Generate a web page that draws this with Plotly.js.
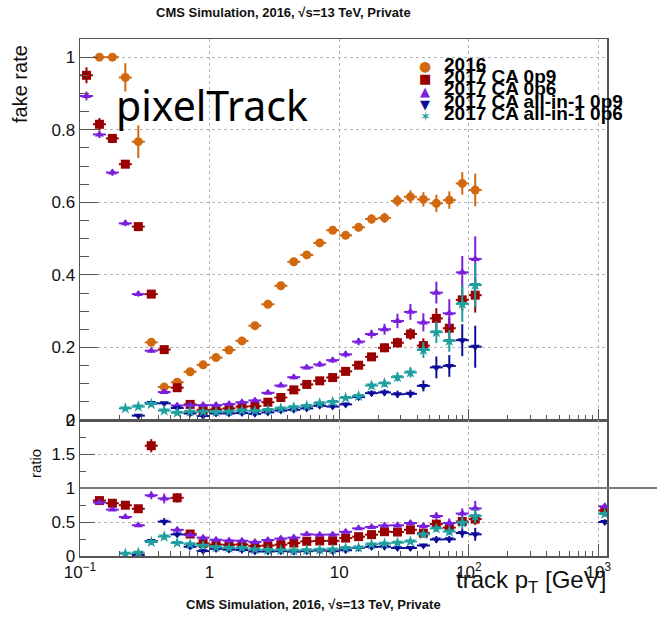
<!DOCTYPE html>
<html><head><meta charset="utf-8">
<script src="https://cdn.plot.ly/plotly-3.0.1.min.js"></script>
<style>html,body{margin:0;padding:0;background:#fff}#plot{width:657px;height:617px}</style>
</head><body><div id="plot"></div>
<script>
// pT bin edges (GeV), log-spaced bins
const ptEdges = [0.1, 0.1259, 0.1585, 0.1995, 0.2512, 0.3162, 0.3981, 0.5012, 0.631, 0.7943,
  1, 1.259, 1.585, 1.995, 2.512, 3.162, 3.981, 5.012, 6.31, 7.943,
  10, 12.59, 15.85, 19.95, 25.12, 31.62, 39.81, 50.12, 63.1, 79.43, 100, 125.9];
const lastBinEdges = [1000, 1259];

const seriesNames = ['2016', '2017 CA 0p9', '2017 CA 0p6', '2017 CA all-in-1 0p9', '2017 CA all-in-1 0p6'];

const fake2016 = [null, 1.0, 1.0, 0.944, 0.767, 0.214, 0.091, 0.104, 0.133, 0.152, 0.172, 0.193, 0.218, 0.260, 0.319, 0.370, 0.436, 0.455, 0.488, 0.523, 0.509, 0.531, 0.554, 0.557, 0.604, 0.615, 0.608, 0.597, 0.606, 0.652, 0.634];
const err2016 = [null, 0, 0, 0.039, 0.045, 0.012, 0.005, 0.007, 0.006, 0.006, 0.006, 0.006, 0.006, 0.006, 0.007, 0.007, 0.008, 0.008, 0.009, 0.009, 0.010, 0.011, 0.013, 0.014, 0.016, 0.018, 0.020, 0.024, 0.024, 0.031, 0.045];

const fakeCA0p9 = [0.950, 0.815, 0.776, 0.705, 0.533, 0.347, 0.194, 0.089, 0.043, 0.028, 0.029, 0.032, 0.037, 0.038, 0.049, 0.062, 0.083, 0.098, 0.108, 0.117, 0.134, 0.151, 0.174, 0.199, 0.213, 0.237, 0.205, 0.280, 0.253, 0.331, 0.344];
const errCA0p9 = [0.022, 0.017, 0.012, 0.009, 0.008, 0.007, 0.005, 0.004, 0.003, 0.003, 0.003, 0.003, 0.003, 0.003, 0.004, 0.004, 0.005, 0.005, 0.006, 0.006, 0.007, 0.008, 0.010, 0.012, 0.014, 0.016, 0.020, 0.028, 0.030, 0.030, 0.048];

const fakeCA0p6 = [0.893, 0.787, 0.682, 0.542, 0.347, 0.191, 0.077, 0.040, 0.041, 0.041, 0.041, 0.044, 0.049, 0.054, 0.075, 0.095, 0.118, 0.145, 0.153, 0.165, 0.181, 0.216, 0.237, 0.250, 0.273, 0.298, 0.269, 0.351, 0.294, 0.407, 0.444];
const errCA0p6 = [0.012, 0.010, 0.009, 0.008, 0.007, 0.006, 0.005, 0.003, 0.003, 0.003, 0.003, 0.003, 0.003, 0.004, 0.004, 0.005, 0.006, 0.006, 0.007, 0.008, 0.009, 0.010, 0.012, 0.015, 0.020, 0.022, 0.025, 0.030, 0.039, 0.045, 0.062];

const fakeAll0p9 = [null, null, null, null, 0.012, 0.047, 0.046, 0.033, 0.018, 0.011, 0.018, 0.018, 0.019, 0.017, 0.021, 0.026, 0.028, 0.032, 0.039, 0.037, 0.043, 0.063, 0.074, 0.076, 0.071, 0.072, 0.094, 0.145, 0.149, 0.220, 0.202];
const errAll0p9 = [null, null, null, null, 0.004, 0.005, 0.004, 0.003, 0.002, 0.002, 0.002, 0.002, 0.002, 0.002, 0.002, 0.003, 0.003, 0.003, 0.004, 0.004, 0.005, 0.006, 0.008, 0.009, 0.010, 0.011, 0.015, 0.030, 0.030, 0.044, 0.058];

const fakeAll0p6 = [null, null, null, 0.032, 0.037, 0.044, 0.026, 0.020, 0.023, 0.023, 0.022, 0.023, 0.026, 0.025, 0.028, 0.032, 0.035, 0.039, 0.046, 0.050, 0.061, 0.066, 0.095, 0.101, 0.118, 0.131, 0.193, 0.242, 0.218, 0.320, 0.372];
const errAll0p6 = [null, null, null, 0.005, 0.005, 0.005, 0.004, 0.003, 0.002, 0.002, 0.002, 0.002, 0.002, 0.002, 0.003, 0.003, 0.003, 0.004, 0.004, 0.005, 0.006, 0.007, 0.009, 0.010, 0.012, 0.014, 0.022, 0.030, 0.030, 0.050, 0.060];

// ratio to 2016 in the last (1000-1259 GeV) bin, for the four 2017 series
const ratioLastBin = [0.67, 0.73, 0.50, 0.62];
const ratioLastBinErr = [0.04, 0.04, 0.04, 0.04];

const xTickVals = [0.1, 1, 10, 100, 1000];
const xTickText = ['10<sup>\u22121</sup>', '1', '10', '10<sup>2</sup>', '10<sup>3</sup>'];
const yTickVals = [0, 0.2, 0.4, 0.6, 0.8, 1];
const yTickText = ['0', '0.2', '0.4', '0.6', '0.8', '1'];
const rTickVals = [0, 0.5, 1, 1.5, 2];
const rTickText = ['0', '0.5', '1', '1.5', '2'];

// styles
const colors = ['#d2680f', '#990000', '#7a1fdc', '#0c0c98', '#1f9f9f'];
const symbols = ['circle', 'square', 'triangle-up', 'triangle-down', 'star'];
const sizes = [9, 9, 8, 8, 9];
const legendGlyphs = ['\u25CF', '\u25A0', '\u25B2', '\u25BC', '\u2736'];

const values = [fake2016, fakeCA0p9, fakeCA0p6, fakeAll0p9, fakeAll0p6];
const errors = [err2016, errCA0p9, errCA0p6, errAll0p9, errAll0p6];

const nb = ptEdges.length - 1;
const centers = [], exPlus = [], exMinus = [];
for (let i = 0; i < nb; i++) {
  const c = Math.sqrt(ptEdges[i] * ptEdges[i + 1]);
  centers.push(c); exPlus.push(ptEdges[i + 1] - c); exMinus.push(c - ptEdges[i]);
}
const lastC = Math.sqrt(lastBinEdges[0] * lastBinEdges[1]);

const traces = [];
values.forEach((vals, s) => {
  traces.push({
    type: 'scatter', mode: 'markers', x: centers, y: vals, xaxis: 'x', yaxis: 'y',
    name: seriesNames[s], showlegend: false, cliponaxis: true,
    marker: {symbol: symbols[s], size: sizes[s], color: colors[s], line: {width: 0}},
    error_y: {type: 'data', array: errors[s].map(v => v == null ? 0 : v), color: colors[s], thickness: 2, width: 0},
    error_x: {type: 'data', symmetric: false, array: exPlus, arrayminus: exMinus, color: colors[s], thickness: 2, width: 0}
  });
});
for (let s = 1; s < values.length; s++) {
  const r = [], re = [];
  for (let i = 0; i < nb; i++) {
    const a = values[s][i], b = fake2016[i];
    if (a == null || b == null || b === 0) { r.push(null); re.push(0); continue; }
    const q = a / b;
    const ea = errors[s][i] || 0, eb = err2016[i] || 0;
    r.push(q);
    re.push(q * Math.sqrt((a > 0 ? (ea / a) ** 2 : 0) + (eb / b) ** 2));
  }
  traces.push({
    type: 'scatter', mode: 'markers', x: centers.concat([lastC]), y: r.concat([ratioLastBin[s - 1]]),
    xaxis: 'x2', yaxis: 'y2', showlegend: false, cliponaxis: true,
    marker: {symbol: symbols[s], size: sizes[s], color: colors[s], line: {width: 0}},
    error_y: {type: 'data', array: re.concat([ratioLastBinErr[s - 1]]), color: colors[s], thickness: 2, width: 0},
    error_x: {type: 'data', symmetric: false,
      array: exPlus.concat([lastBinEdges[1] - lastC]), arrayminus: exMinus.concat([lastC - lastBinEdges[0]]),
      color: colors[s], thickness: 2, width: 0}
  });
}

// minor ticks for log axis
const minorX = [];
for (let d = -1; d <= 3; d++) for (let m = 2; m <= 9; m++) minorX.push(m * Math.pow(10, d));

const W = 657, H = 617, L = 80, R = 50, T = 39, B = 61;
const pw = W - L - R, ph = H - T - B;
const px = v => (v - L) / pw;
const py = v => (H - B - v) / ph;
const ratioTop = py(420);

const frame = {showline: true, linecolor: '#555', linewidth: 1.5, mirror: true, zeroline: false,
  showgrid: true, gridcolor: '#b4b4b4', griddash: 'dot', gridwidth: 1, tickcolor: '#555'};
const tickfont = {family: 'Liberation Sans, Arial, sans-serif', size: 17, color: '#111'};

const layout = {
  width: W, height: H, margin: {l: L, r: R, t: T, b: B},
  paper_bgcolor: '#fff', plot_bgcolor: '#fff', showlegend: false,
  xaxis: Object.assign({}, frame, {type: 'log', range: [-1, 3.067], domain: [0, 1], anchor: 'y',
    tickmode: 'array', tickvals: xTickVals, showticklabels: false, ticks: 'inside', ticklen: 11, tickwidth: 1,
    minor: {tickmode: 'array', tickvals: minorX, ticks: 'inside', ticklen: 5, tickcolor: '#555', showgrid: false}}),
  yaxis: Object.assign({}, frame, {range: [0, 1.05], domain: [ratioTop, 1], anchor: 'x',
    tickmode: 'array', tickvals: yTickVals, ticktext: yTickText, ticks: 'inside', ticklen: 18, tickfont: tickfont,
    minor: {dtick: 0.05, tick0: 0, ticks: 'inside', ticklen: 9, tickcolor: '#555', showgrid: false}}),
  xaxis2: Object.assign({}, frame, {type: 'log', range: [-1, 3.067], domain: [0, 1], anchor: 'y2',
    tickmode: 'array', tickvals: xTickVals, ticktext: xTickText, ticks: 'inside', ticklen: 12, tickfont: tickfont,
    minor: {tickmode: 'array', tickvals: minorX, ticks: 'inside', ticklen: 5, tickcolor: '#555', showgrid: false}}),
  yaxis2: Object.assign({}, frame, {range: [0, 2], domain: [0, ratioTop], anchor: 'x2',
    tickmode: 'array', tickvals: rTickVals, ticktext: rTickText, ticks: 'inside', ticklen: 15, tickfont: tickfont,
    minor: {dtick: 0.25, tick0: 0, ticks: 'inside', ticklen: 6, tickcolor: '#555', showgrid: false}}),
  shapes: [{type: 'line', xref: 'paper', yref: 'paper', x0: 0, x1: px(W), y0: ratioTop / 2, y1: ratioTop / 2,
    line: {color: '#777', width: 2}}],
  annotations: []
};

const A = layout.annotations;
const capFont = {family: 'Liberation Sans, Arial, sans-serif', size: 13, color: '#111'};
A.push({xref: 'paper', yref: 'paper', x: px(283), y: py(13), xanchor: 'center', yanchor: 'middle', showarrow: false,
  text: '<b>CMS Simulation, 2016, \u221As=13 TeV, Private</b>', font: capFont});
A.push({xref: 'paper', yref: 'paper', x: px(313), y: py(604), xanchor: 'center', yanchor: 'middle', showarrow: false,
  text: '<b>CMS Simulation, 2016, \u221As=13 TeV, Private</b>', font: capFont});
A.push({xref: 'paper', yref: 'paper', x: px(212), y: py(105), xanchor: 'center', yanchor: 'middle', showarrow: false,
  text: 'pixelTrack', font: {family: 'Noto Sans, sans-serif', size: 41, color: '#000'}});
A.push({xref: 'paper', yref: 'paper', x: px(20), y: py(84), xanchor: 'center', yanchor: 'middle', showarrow: false,
  textangle: -90, text: 'fake rate', font: {family: 'Liberation Sans, Arial, sans-serif', size: 20, color: '#111'}});
A.push({xref: 'paper', yref: 'paper', x: px(35), y: py(464), xanchor: 'center', yanchor: 'middle', showarrow: false,
  textangle: -90, text: 'ratio', font: {family: 'Liberation Sans, Arial, sans-serif', size: 15, color: '#111'}});
A.push({xref: 'paper', yref: 'paper', x: px(608), y: py(581), xanchor: 'right', yanchor: 'middle', showarrow: false,
  text: 'track p<sub>T</sub> [GeV]', font: {family: 'Liberation Sans, Arial, sans-serif', size: 24, color: '#111'}});

const legTextY = [64.5, 76.7, 88.9, 101.1, 113.3];
const legMarkY = [65.7, 78.9, 92.0, 104.5, 116.8];
seriesNames.forEach((n, s) => {
  A.push({xref: 'paper', yref: 'paper', x: px(425), y: py(legMarkY[s]), xanchor: 'center', yanchor: 'middle', showarrow: false,
    text: legendGlyphs[s], font: {family: 'DejaVu Sans, sans-serif', size: s === 0 ? 14 : 13, color: colors[s]}});
  A.push({xref: 'paper', yref: 'paper', x: px(442), y: py(legTextY[s]), xanchor: 'left', yanchor: 'middle', showarrow: false,
    text: '<b>' + n + '</b>', font: {family: 'Liberation Sans, Arial, sans-serif', size: 19, color: '#000'}});
});

Plotly.newPlot('plot', traces, layout, {staticPlot: true, displayModeBar: false});
</script>
</body></html>
